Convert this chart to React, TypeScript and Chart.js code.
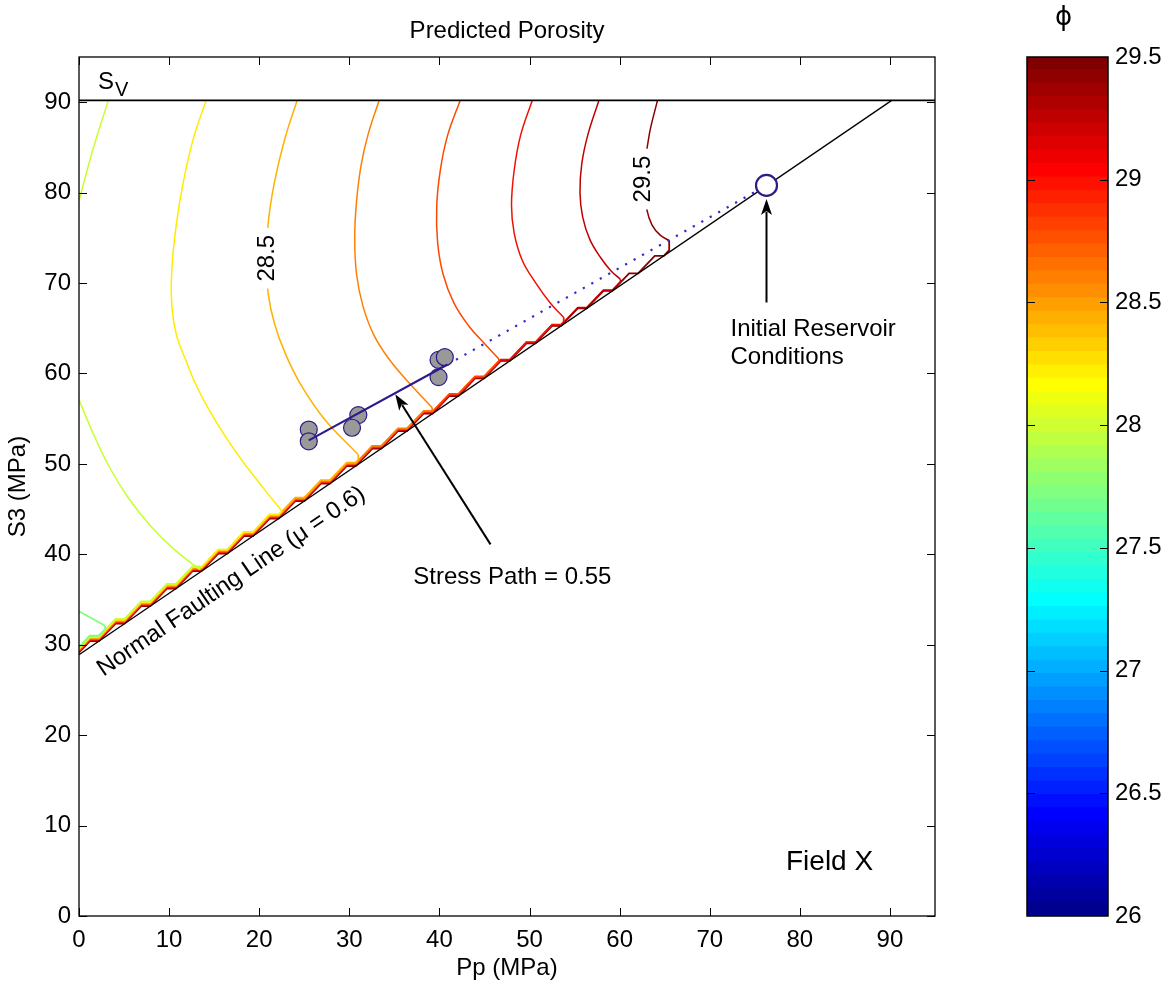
import React, { useEffect, useRef } from 'react';
import { Chart, registerables } from 'chart.js';

Chart.register(...registerables);

const FONT = '"Liberation Sans", Arial, Helvetica, sans-serif';

// ---------- axes ----------
const xTicks = [0, 10, 20, 30, 40, 50, 60, 70, 80, 90];
const yTicks = [0, 10, 20, 30, 40, 50, 60, 70, 80, 90];
const axisMin = 0;
const axisMax = 95;

// ---------- colorbar ----------
const colorbarTicks = [26, 26.5, 27, 27.5, 28, 28.5, 29, 29.5];
const colorbarMin = 26;
const colorbarMax = 29.5;
const colorbarBands = 64;

// ---------- stress lines ----------
const svStress = 90.2;
const faultPp = [0, 90.2];
const faultS3 = [28.9, 90.2];

const measuredPp = [25.5, 25.5, 31.0, 30.3, 39.9, 40.6, 39.9];
const measuredS3 = [53.8, 52.5, 55.4, 54.0, 61.5, 61.8, 59.6];

const stressPathPp = [25.5, 40.9];
const stressPathS3 = [52.6, 61.0];
const extrapolatedPp = [40.9, 76.3];
const extrapolatedS3 = [61.0, 80.8];

const initialPp = [76.3];
const initialS3 = [80.8];

// ---------- porosity contours ----------
const contourLevels = [27.9, 28.1, 28.3, 28.5, 28.7, 28.9, 29.1, 29.3, 29.5];
const contourColors = ['#7dff7a', '#c8ff30', '#ffec00', '#ffb000', '#ff8000', '#ff4800', '#f01000', '#c00000', '#8a0000'];

const contourPp = [
  [0, 2.9],
  [0, 1.6, 3.4, 5.5, 7.9, 10.5, 13.4],
  [14.1, 12.7, 11.6, 10.8, 10.3, 10.3, 10.8, 11.8, 13.0, 14.6, 16.4, 18.3, 20.4, 22.5],
  [24.2, 22.8, 21.7, 21.0, 20.8, 21.0, 21.7, 22.9, 24.6, 27.2, 31.0],
  [33.3, 32.1, 31.3, 30.8, 30.6, 30.8, 31.5, 32.7, 34.4, 36.6, 39.2],
  [42.3, 40.9, 40.1, 39.7, 39.8, 40.4, 41.6, 43.3, 45.1, 46.6],
  [50.3, 49.0, 48.3, 48.0, 48.3, 49.2, 50.7, 52.3, 53.8],
  [57.7, 56.5, 55.8, 55.6, 55.9, 56.7, 57.9, 59.0, 60.1],
  [64.2, 63.3, 62.9, 62.8, 63.0, 63.6, 64.5, 65.5],
];
const contourS3 = [
  [33.7, 32.1],
  [57.1, 53.3, 49.6, 46.2, 43.2, 40.6, 38.3],
  [90.2, 86.0, 81.3, 76.5, 71.5, 67.5, 64.3, 61.6, 58.7, 55.7, 52.8, 50.1, 47.4, 44.8],
  [90.2, 85.8, 81.2, 76.7, 72.5, 68.8, 65.5, 62.2, 58.8, 55.0, 51.0],
  [90.2, 86.5, 83.0, 79.0, 75.0, 71.0, 67.5, 64.3, 61.6, 59.0, 56.2],
  [90.2, 86.3, 82.5, 78.5, 74.5, 71.0, 67.8, 65.2, 63.2, 61.6],
  [90.2, 86.3, 82.5, 78.6, 75.5, 72.5, 70.0, 67.8, 66.2],
  [90.2, 86.5, 83.2, 80.0, 77.3, 74.8, 72.8, 71.4, 70.4],
  [90.2, 86.5, 83.5, 80.5, 78.2, 76.4, 75.3, 74.7],
];
// upper branch of the 28.1 contour (cut by the left axis)
const contour281TopPp = [0, 1.55, 3.25];
const contour281TopS3 = [79.1, 84.8, 90.2];

// grid staircase where every contour runs along the faulting limit
const stairStarts = [-1.65, 1.2, 4.05, 6.9, 9.75, 12.6, 15.45, 18.3, 21.15, 24.0, 26.85, 29.7, 32.55, 35.4, 38.25, 41.1, 43.95, 46.8, 49.65, 52.5, 55.35, 58.2, 61.05, 63.9, 66.75];
const stairFlat = 1.0;

const contourLabels = [
  { text: '28.5', x: 20.85, y: 72.75 },
  { text: '29.5', x: 62.5, y: 81.5 },
];

// ---------- helpers ----------
const pts = (xs: number[], ys: number[]) => xs.map((x, i) => ({ x, y: ys[i] }));
const faultAt = (p: number) => faultS3[0] + ((faultS3[1] - faultS3[0]) / (faultPp[1] - faultPp[0])) * (p - faultPp[0]);

function stairVertices(off: number) {
  const v: { x: number; y: number }[] = [];
  stairStarts.forEach((s) => {
    const yy = faultAt(s + stairFlat) + off;
    v.push({ x: s, y: yy });
    v.push({ x: s + stairFlat, y: yy });
  });
  return v;
}
function stairYAt(v: { x: number; y: number }[], x: number) {
  for (let i = 0; i < v.length - 1; i++) {
    if (x >= v[i].x && x <= v[i + 1].x) {
      const t = (x - v[i].x) / (v[i + 1].x - v[i].x || 1);
      return v[i].y + t * (v[i + 1].y - v[i].y);
    }
  }
  return v[v.length - 1].y;
}

function jet(m: number) {
  const n = Math.ceil(m / 4);
  const u: number[] = [];
  for (let i = 1; i <= n; i++) u.push(i / n);
  for (let i = 1; i < n; i++) u.push(1);
  for (let i = n; i >= 1; i--) u.push(i / n);
  const gOff = Math.ceil(n / 2) - (m % 4 === 1 ? 1 : 0);
  const cols = Array.from({ length: m }, () => [0, 0, 0]);
  for (let k = 0; k < u.length; k++) {
    const g = gOff + k;
    const r = g + n;
    const b = g - n;
    if (g >= 0 && g < m) cols[g][1] = u[k];
    if (r >= 0 && r < m) cols[r][0] = u[k];
    if (b >= 0 && b < m) cols[b][2] = u[k];
  }
  return cols.map((c) => `rgb(${Math.round(c[0] * 255)},${Math.round(c[1] * 255)},${Math.round(c[2] * 255)})`);
}

function drawArrow(ctx: CanvasRenderingContext2D, x0: number, y0: number, x1: number, y1: number) {
  const ang = Math.atan2(y1 - y0, x1 - x0);
  const hl = 16;
  const hw = 5.5;
  ctx.save();
  ctx.strokeStyle = '#000';
  ctx.fillStyle = '#000';
  ctx.lineWidth = 2;
  ctx.beginPath();
  ctx.moveTo(x0, y0);
  ctx.lineTo(x1 - Math.cos(ang) * hl * 0.8, y1 - Math.sin(ang) * hl * 0.8);
  ctx.stroke();
  ctx.beginPath();
  ctx.moveTo(x1, y1);
  ctx.lineTo(x1 - Math.cos(ang) * hl - Math.sin(ang) * hw, y1 - Math.sin(ang) * hl + Math.cos(ang) * hw);
  ctx.lineTo(x1 - Math.cos(ang) * hl * 0.75, y1 - Math.sin(ang) * hl * 0.75);
  ctx.lineTo(x1 - Math.cos(ang) * hl + Math.sin(ang) * hw, y1 - Math.sin(ang) * hl - Math.cos(ang) * hw);
  ctx.closePath();
  ctx.fill();
  ctx.restore();
}

const mainPlugin = {
  id: 'mainDecor',
  afterDatasetsDraw(chart: any) {
    const { ctx, scales } = chart;
    const px = (v: number) => scales.x.getPixelForValue(v);
    const py = (v: number) => scales.y.getPixelForValue(v);
    ctx.save();
    // contour labels
    contourLabels.forEach((lab) => {
      ctx.save();
      ctx.translate(px(lab.x), py(lab.y));
      ctx.rotate(-Math.PI / 2);
      ctx.font = `24px ${FONT}`;
      const w = ctx.measureText(lab.text).width;
      ctx.fillStyle = '#fff';
      ctx.fillRect(-w / 2 - 7, -10, w + 14, 20);
      ctx.fillStyle = '#000';
      ctx.textAlign = 'center';
      ctx.textBaseline = 'middle';
      ctx.fillText(lab.text, 0, 1);
      ctx.restore();
    });

    // arrows
    drawArrow(ctx, px(45.67), py(41.1), px(35.1), py(57.7));
    drawArrow(ctx, px(76.3), py(67.85), px(76.3), py(79.3));

    ctx.fillStyle = '#000';
    ctx.font = `24px ${FONT}`;
    ctx.textBaseline = 'middle';
    ctx.textAlign = 'center';
    ctx.fillText('Stress Path = 0.55', px(48.1), py(37.5));
    ctx.textAlign = 'left';
    ctx.fillText('Initial Reservoir', px(72.3), py(64.9));
    ctx.fillText('Conditions', px(72.3), py(61.8));
    ctx.textAlign = 'center';
    ctx.font = `28px ${FONT}`;
    ctx.fillText('Field X', px(83.3), py(5.9));

    // Sv label
    ctx.textAlign = 'left';
    ctx.textBaseline = 'alphabetic';
    ctx.font = `24px ${FONT}`;
    ctx.fillText('S', px(2.1), py(91.45));
    ctx.font = `20px ${FONT}`;
    ctx.fillText('V', px(4.0), py(90.7));

    // faulting line label
    const ang = Math.atan2(py(faultS3[1]) - py(faultS3[0]), px(faultPp[1]) - px(faultPp[0]));
    ctx.save();
    ctx.translate(px(16.9), py(37.0));
    ctx.rotate(ang);
    ctx.font = `24px ${FONT}`;
    ctx.textAlign = 'center';
    ctx.textBaseline = 'middle';
    ctx.fillText('Normal Faulting Line (\u03bc = 0.6)', 0, 0);
    ctx.restore();
    ctx.restore();
  },
  afterDraw(chart: any) {
    const { ctx, chartArea: a, scales } = chart;
    ctx.save();
    ctx.strokeStyle = '#000';
    ctx.lineWidth = 1.3;
    ctx.strokeRect(a.left, a.top, a.right - a.left, a.bottom - a.top);
    const tl = 8;
    ctx.lineWidth = 1;
    ctx.beginPath();
    xTicks.forEach((v) => {
      const x = Math.round(scales.x.getPixelForValue(v)) + 0.5;
      ctx.moveTo(x, a.bottom);
      ctx.lineTo(x, a.bottom - tl);
      ctx.moveTo(x, a.top);
      ctx.lineTo(x, a.top + tl);
    });
    yTicks.forEach((v) => {
      const y = Math.round(scales.y.getPixelForValue(v)) + 0.5;
      ctx.moveTo(a.left, y);
      ctx.lineTo(a.left + tl, y);
      ctx.moveTo(a.right, y);
      ctx.lineTo(a.right - tl, y);
    });
    ctx.stroke();

    ctx.fillStyle = '#000';
    ctx.font = `24px ${FONT}`;
    ctx.textAlign = 'center';
    ctx.textBaseline = 'middle';
    const cx = (a.left + a.right) / 2;
    ctx.fillText('Predicted Porosity', cx, a.top - 26);
    ctx.fillText('Pp (MPa)', cx, a.bottom + 52);
    ctx.save();
    ctx.translate(a.left - 61, (a.top + a.bottom) / 2);
    ctx.rotate(-Math.PI / 2);
    ctx.fillText('S3 (MPa)', 0, 0);
    ctx.restore();
    ctx.restore();
  },
};

const colorbarPlugin = {
  id: 'colorbarDecor',
  afterDraw(chart: any) {
    const { ctx, chartArea: a, scales } = chart;
    ctx.save();
    ctx.strokeStyle = '#000';
    ctx.lineWidth = 1.5;
    ctx.strokeRect(a.left, a.top, a.right - a.left, a.bottom - a.top);
    ctx.lineWidth = 1;
    ctx.beginPath();
    colorbarTicks.forEach((v) => {
      if (v === colorbarMin || v === colorbarMax) return;
      const y = Math.round(scales.y.getPixelForValue(v)) + 0.5;
      ctx.moveTo(a.left, y);
      ctx.lineTo(a.left + 8, y);
      ctx.moveTo(a.right, y);
      ctx.lineTo(a.right - 8, y);
    });
    ctx.stroke();
    ctx.fillStyle = '#000';
    ctx.font = '26px "DejaVu Sans", sans-serif';
    ctx.textAlign = 'center';
    ctx.textBaseline = 'middle';
    ctx.fillText('\u03d5', (a.left + a.right) / 2 - 4, 18);
    ctx.restore();
  },
};

function buildMainDatasets() {
  const ds: any[] = [];
  const n = contourLevels.length;
  contourLevels.forEach((lvl, i) => {
    const color = contourColors[i];
    const off = (n - 1 - i) * 0.075;
    const arc = pts(contourPp[i], contourS3[i]);
    ds.push({
      label: `phi ${lvl}`,
      data: arc,
      showLine: true,
      borderColor: color,
      borderWidth: 1.5,
      pointRadius: 0,
      tension: 0.4,
      fill: false,
      order: 20,
    });
    const v = stairVertices(off);
    const end = arc[arc.length - 1];
    const stair = [end, { x: end.x, y: stairYAt(v, end.x) }];
    for (let k = v.length - 1; k >= 0; k--) if (v[k].x < end.x) stair.push(v[k]);
    ds.push({
      label: `phi ${lvl} limit`,
      data: stair,
      showLine: true,
      borderColor: color,
      borderWidth: 1.8,
      pointRadius: 0,
      tension: 0,
      fill: false,
      order: 20,
    });
  });
  ds.push({
    label: 'phi 28.1 upper',
    data: pts(contour281TopPp, contour281TopS3),
    showLine: true,
    borderColor: contourColors[1],
    borderWidth: 1.5,
    pointRadius: 0,
    tension: 0.3,
    order: 20,
  });
  ds.push({
    label: 'Normal faulting line',
    data: pts(faultPp, faultS3),
    showLine: true,
    borderColor: '#000',
    borderWidth: 1.3,
    pointRadius: 0,
    order: 10,
  });
  ds.push({
    label: 'Sv',
    data: pts([axisMin, axisMax], [svStress, svStress]),
    showLine: true,
    borderColor: '#000',
    borderWidth: 1.8,
    pointRadius: 0,
    order: 10,
  });
  ds.push({
    label: 'Extrapolated path',
    data: pts(extrapolatedPp, extrapolatedS3),
    showLine: true,
    borderColor: '#3428c8',
    borderWidth: 2.2,
    borderDash: [2.2, 7.5],
    pointRadius: 0,
    order: 6,
  });
  ds.push({
    label: 'Measured',
    data: pts(measuredPp, measuredS3),
    showLine: false,
    pointRadius: 8.5,
    pointBackgroundColor: '#999999',
    pointBorderColor: '#2b1d86',
    pointBorderWidth: 1.2,
    order: 5,
  });
  ds.push({
    label: 'Stress path',
    data: pts(stressPathPp, stressPathS3),
    showLine: true,
    borderColor: '#2e1a8a',
    borderWidth: 2.2,
    pointRadius: 0,
    order: 4,
  });
  ds.push({
    label: 'Initial',
    data: pts(initialPp, initialS3),
    showLine: false,
    pointRadius: 10.5,
    pointBackgroundColor: '#ffffff',
    pointBorderColor: '#2b1d86',
    pointBorderWidth: 2.2,
    order: 3,
  });
  return ds;
}

export default function App() {
  const mainRef = useRef<HTMLCanvasElement>(null);
  const cbRef = useRef<HTMLCanvasElement>(null);

  useEffect(() => {
    const tickFont = { family: FONT, size: 24 };
    const main = new Chart(mainRef.current as HTMLCanvasElement, {
      type: 'scatter',
      data: { datasets: buildMainDatasets() },
      options: {
        animation: false,
        responsive: false,
        devicePixelRatio: 1,
        events: [],
        layout: { padding: { left: 0, right: 236, top: 57, bottom: 0 } },
        plugins: { legend: { display: false }, tooltip: { enabled: false }, title: { display: false } },
        scales: {
          x: {
            type: 'linear',
            min: axisMin,
            max: axisMax,
            afterBuildTicks: (s: any) => {
              s.ticks = xTicks.map((v) => ({ value: v }));
            },
            afterFit: (s: any) => {
              s.height = 69;
            },
            grid: { display: false, drawTicks: false },
            border: { display: false },
            ticks: { color: '#000', font: tickFont, padding: 10, maxRotation: 0, autoSkip: false },
          },
          y: {
            type: 'linear',
            min: axisMin,
            max: axisMax,
            afterBuildTicks: (s: any) => {
              s.ticks = yTicks.map((v) => ({ value: v }));
            },
            afterFit: (s: any) => {
              s.width = 79;
            },
            grid: { display: false, drawTicks: false },
            border: { display: false },
            ticks: { color: '#000', font: tickFont, padding: 8, autoSkip: false },
          },
        },
      } as any,
      plugins: [mainPlugin],
    } as any);

    const colors = jet(colorbarBands);
    const step = (colorbarMax - colorbarMin) / colorbarBands;
    const cbDatasets = colors.map((c, i) => ({
      label: `band ${i}`,
      data: [[colorbarMin + i * step, Math.min(colorbarMax, colorbarMin + (i + 1) * step + 0.004)]],
      backgroundColor: c,
      borderWidth: 0,
      grouped: false,
      barPercentage: 1,
      categoryPercentage: 1,
    }));
    const cb = new Chart(cbRef.current as HTMLCanvasElement, {
      type: 'bar',
      data: { labels: ['phi'], datasets: cbDatasets },
      options: {
        animation: false,
        responsive: false,
        devicePixelRatio: 1,
        events: [],
        layout: { padding: { left: 27, right: 0, top: 57, bottom: 69 } },
        plugins: { legend: { display: false }, tooltip: { enabled: false } },
        scales: {
          x: { type: 'category', display: false, offset: true },
          y: {
            type: 'linear',
            position: 'right',
            min: colorbarMin,
            max: colorbarMax,
            afterBuildTicks: (s: any) => {
              s.ticks = colorbarTicks.map((v) => ({ value: v }));
            },
            afterFit: (s: any) => {
              s.width = 63;
            },
            grid: { display: false, drawTicks: false },
            border: { display: false },
            ticks: { color: '#000', font: tickFont, padding: 7, autoSkip: false, callback: (v: any) => String(v) },
          },
        },
      } as any,
      plugins: [colorbarPlugin],
    } as any);

    return () => {
      main.destroy();
      cb.destroy();
    };
  }, []);

  return (
    <div style={{ position: 'absolute', left: 0, top: 0, width: 1171, height: 985, background: '#fff' }}>
      <canvas ref={mainRef} width={1171} height={985} style={{ position: 'absolute', left: 0, top: 0 }} />
      <canvas ref={cbRef} width={171} height={985} style={{ position: 'absolute', left: 1000, top: 0 }} />
    </div>
  );
}
